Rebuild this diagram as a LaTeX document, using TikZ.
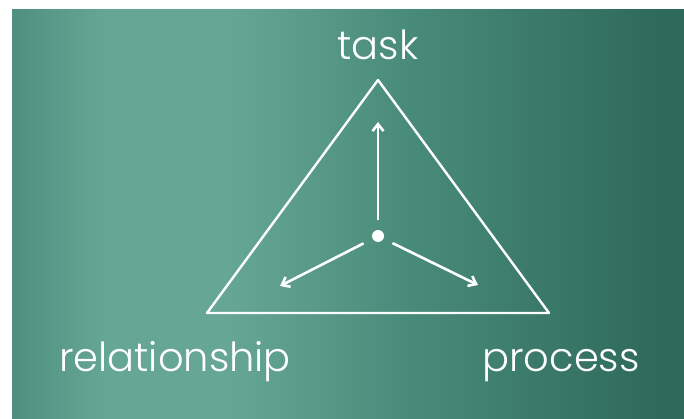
\documentclass[tikz,border=0pt]{standalone}
\usepackage{fontspec}
\setmainfont{Poppins Light}
\usetikzlibrary{positioning, arrows.meta}

\definecolor{tealEdge}{RGB}{78,144,128}
\definecolor{tealLight}{RGB}{102,166,148}
\definecolor{tealMid}{RGB}{72,138,121}
\definecolor{tealDark}{RGB}{46,106,91}
\pgfdeclarehorizontalshading{bgshade}{100bp}{color(0bp)=(tealEdge); color(25bp)=(tealEdge); color(32bp)=(tealLight); color(41bp)=(tealLight); color(55bp)=(tealMid); color(73bp)=(tealDark); color(100bp)=(tealDark)}

\tikzset{
    label/.style={text=white, font=\fontsize{40}{48}\selectfont, anchor=base},
    edge/.style={draw=white, line width=2.4pt, line join=round},
    spoke/.style={draw=white, line width=2.6pt, shorten <=10pt, -{Straight Barb[length=7pt, width=11pt]}}
}

\begin{document}
\begin{tikzpicture}[x=1pt, y=1pt]
    \useasboundingbox (0,0) rectangle (684,419);
    \shade[shading=bgshade] (12,0) rectangle (684,409);

    \coordinate (Top)   at (378,339);
    \coordinate (Left)  at (207,106);
    \coordinate (Right) at (549,106);
    \node[circle, fill=white, inner sep=0pt, minimum size=12pt] (Hub) at (378,183) {};

    \draw[edge] (Top) -- (Left) -- (Right) -- cycle;

    \coordinate (Up)         at (378,297);
    \coordinate (Down Left)  at (280,133);
    \coordinate (Down Right) at (478,134);
    \draw[spoke] (Hub) -- (Up);
    \draw[spoke] (Hub) -- (Down Left);
    \draw[spoke] (Hub) -- (Down Right);

    \node[label] (Task)         at (378,359) {task};
    \node[label] (Relationship) at (175,47)  {relationship};
    \node[label] (Process)      at (561,47)  {process};
\end{tikzpicture}
\end{document}
